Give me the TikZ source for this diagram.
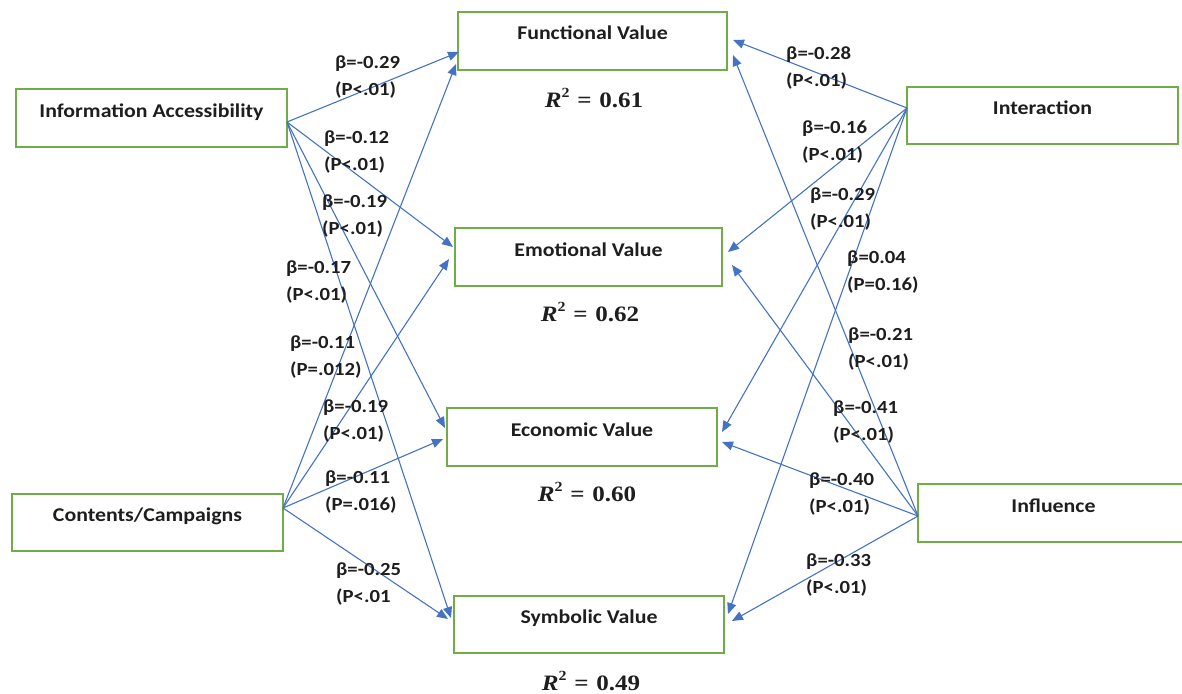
\documentclass[tikz,border=0pt]{standalone}
\usepackage{fontspec}
\setmainfont{Carlito}[FakeStretch=1.12]
\newfontfamily\rsqfont{Liberation Serif}[FakeStretch=1.14]
\usetikzlibrary{arrows.meta}
\definecolor{boxgreen}{HTML}{70AD47}
\definecolor{arrowblue}{HTML}{4472C4}
\definecolor{txt}{HTML}{1E1E1E}
\newcommand{\rsqtext}[1]{{\itshape R}\raisebox{0.42em}{\fontsize{14}{14}\selectfont 2}\hspace{0.35em}=\hspace{0.35em}#1}
\begin{document}
\begin{tikzpicture}[x=1pt,y=-1pt,
  box/.style={draw=boxgreen, line width=2pt, minimum width=271pt, minimum height=58pt,
    inner sep=0pt, font=\fontsize{19.5}{22}\selectfont\bfseries, text=txt,
    text height=12.5pt, text depth=14.5pt},
  conn/.style={draw=arrowblue, line width=1.1pt, -{Triangle[length=11pt,width=9pt]}},
  lbl/.style={font=\fontsize{18.5}{27}\selectfont\bfseries, align=left, anchor=west,
    inner sep=0pt, text=txt},
  rsq/.style={font=\rsqfont\bfseries\fontsize{22}{24}\selectfont, inner sep=0pt, text=txt}]
\useasboundingbox (0,0) rectangle (1182,693);

% boxes
\node[box] (ia)  at (151.5,118)  {Information Accessibility};
\node[box, minimum height=57pt] (cc)  at (147.5,522.5) {Contents/Campaigns};
\node[box, minimum width=269pt] (fv)  at (592.5,41)   {Functional Value};
\node[box, minimum width=267pt] (ev)  at (588.5,257)  {Emotional Value};
\node[box, minimum width=270pt] (ec)  at (582,437)    {Economic Value};
\node[box, minimum width=270pt, minimum height=57pt] (sv)  at (589,624) {Symbolic Value};
\node[box, minimum height=57pt] (it)  at (1042.5,115.5) {Interaction};
\node[box] (inf) at (1053.5,513)  {Influence};

% R squared
\node[rsq] (r1) at (594,98)  {\rsqtext{0.61}};
\node[rsq] (r2) at (590,312) {\rsqtext{0.62}};
\node[rsq] (r3) at (587,492) {\rsqtext{0.60}};
\node[rsq] (r4) at (591,681) {\rsqtext{0.49}};

% connectors from Information Accessibility
\draw[conn] ([shift={(-1,4)}]ia.east) -- ([shift={(2,11)}]fv.west);
\draw[conn] ([shift={(-1,4)}]ia.east) -- ([shift={(-1,-10)}]ev.west);
\draw[conn] ([shift={(-1,4)}]ia.east) -- ([shift={(-1,-9)}]ec.west);
\draw[conn] ([shift={(-1,4)}]ia.east) -- ([shift={(-2,-6)}]sv.west);
% connectors from Contents/Campaigns
\draw[conn] ([shift={(-1,-14.5)}]cc.east) -- ([shift={(-1,23)}]fv.west);
\draw[conn] ([shift={(-1,-14.5)}]cc.east) -- ([shift={(-5,2)}]ev.west);
\draw[conn] ([shift={(-1,-14.5)}]cc.east) -- ([shift={(-3,2)}]ec.west);
\draw[conn] ([shift={(-1,-14.5)}]cc.east) -- ([shift={(-5,-5)}]sv.west);
% connectors from Interaction
\draw[conn] ([shift={(1,-7.5)}]it.west) -- ([shift={(5,-1)}]fv.east);
\draw[conn] ([shift={(1,-7.5)}]it.west) -- ([shift={(5,-5)}]ev.east);
\draw[conn] ([shift={(1,-7.5)}]it.west) -- ([shift={(4,-5)}]ec.east);
\draw[conn] ([shift={(1,-7.5)}]it.west) -- ([shift={(3,-10)}]sv.east);
% connectors from Influence
\draw[conn] ([shift={(1,3)}]inf.west) -- ([shift={(5,14)}]fv.east);
\draw[conn] ([shift={(1,3)}]inf.west) -- ([shift={(9,8)}]ev.east);
\draw[conn] ([shift={(1,3)}]inf.west) -- ([shift={(4,5)}]ec.east);
\draw[conn] ([shift={(1,3)}]inf.west) -- ([shift={(7,-3)}]sv.east);

% path coefficient labels (left)
\node[lbl] (l1)  at (335,77.5)  {β=-0.29\\(P<.01)};
\node[lbl] (l2)  at (324,152.5) {β=-0.12\\(P<.01)};
\node[lbl] (l3)  at (322,216)   {β=-0.19\\(P<.01)};
\node[lbl] (l4)  at (286,282)   {β=-0.17\\(P<.01)};
\node[lbl] (l5)  at (290,357.5) {β=-0.11\\(P=.012)};
\node[lbl] (l6)  at (323,421)   {β=-0.19\\(P<.01)};
\node[lbl] (l7)  at (325,492)   {β=-0.11\\(P=.016)};
\node[lbl] (l8)  at (336,584.5) {β=-0.25\\(P<.01};
% path coefficient labels (right)
\node[lbl] (l9)  at (786,68.5)  {β=-0.28\\(P<.01)};
\node[lbl] (l10) at (802,142)   {β=-0.16\\(P<.01)};
\node[lbl] (l11) at (810,209)   {β=-0.29\\(P<.01)};
\node[lbl] (l12) at (847,272.5) {β=0.04\\(P=0.16)};
\node[lbl] (l13) at (848,349.5) {β=-0.21\\(P<.01)};
\node[lbl] (l14) at (833,422.5) {β=-0.41\\(P<.01)};
\node[lbl] (l15) at (809,494.5) {β=-0.40\\(P<.01)};
\node[lbl] (l16) at (806,575)   {β=-0.33\\(P<.01)};
\end{tikzpicture}
\end{document}
